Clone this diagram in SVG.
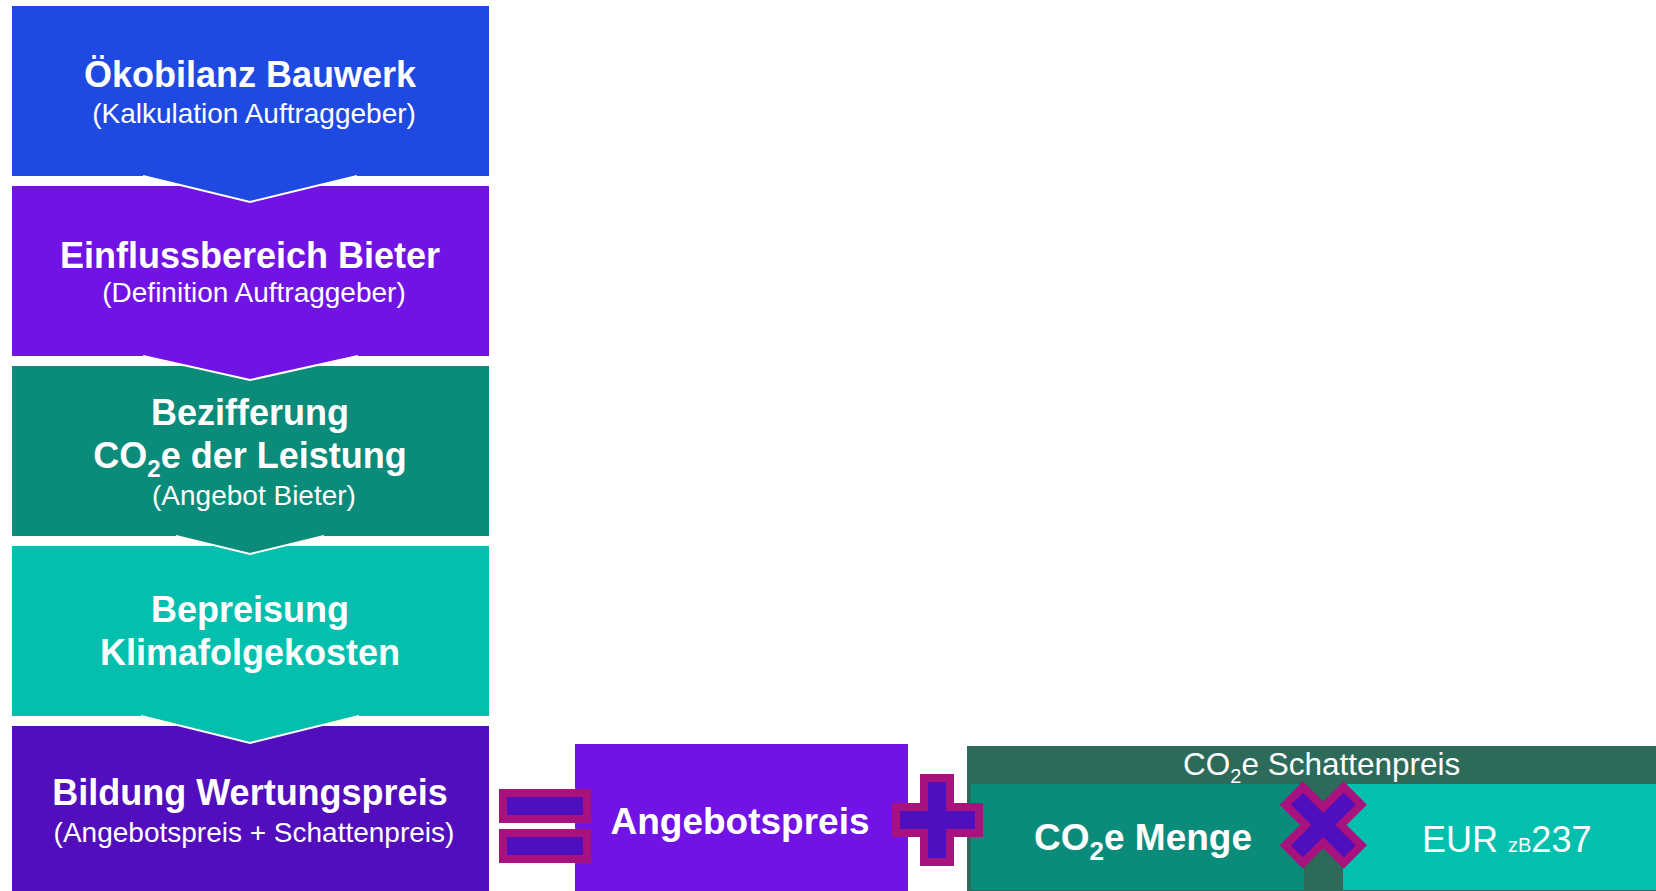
<svg xmlns="http://www.w3.org/2000/svg" width="1656" height="891" viewBox="0 0 1656 891">
<style>
.t{font-family:"Liberation Sans",Arial,sans-serif;fill:#fff}
.b{font-weight:bold;font-size:36px}
.s{font-size:28px}
.m{text-anchor:middle}
.edge{fill:none;stroke:#fff;stroke-width:2}
.op{fill:#500FBC;stroke:#A7127E;stroke-width:8;stroke-linejoin:miter}
</style>
<rect width="1656" height="891" fill="#fff"/>
<g id="box5">
<rect x="12" y="726" width="477" height="165" fill="#520EBC"/>
<text class="t b m" x="250" y="805">Bildung Wertungspreis</text>
<text class="t s m" x="254" y="842">(Angebotspreis + Schattenpreis)</text>
</g>
<g id="box4">
<polygon points="12,546 489,546 489,716 359,716 250,743 141,716 12,716" fill="#03C0AE"/>
<polyline class="edge" points="141,716 250,743 359,716"/>
<text class="t b m" x="250" y="622">Bepreisung</text>
<text class="t b m" x="250" y="665">Klimafolgekosten</text>
</g>
<g id="box3">
<polygon points="12,366 489,366 489,536 324,536 250,554 176,536 12,536" fill="#0B8C7A"/>
<polyline class="edge" points="176,536 250,554 324,536"/>
<text class="t b m" x="250" y="425">Bezifferung</text>
<text class="t b m" x="250" y="468">CO<tspan font-size="24" dy="9">2</tspan><tspan dy="-9">e der Leistung</tspan></text>
<text class="t s m" x="254" y="505">(Angebot Bieter)</text>
</g>
<g id="box2">
<polygon points="12,186 489,186 489,356 358,356 250,380 143,356 12,356" fill="#7213E6"/>
<polyline class="edge" points="143,356 250,380 358,356"/>
<text class="t b m" x="250" y="268">Einflussbereich Bieter</text>
<text class="t s m" x="254" y="302">(Definition Auftraggeber)</text>
</g>
<g id="box1">
<polygon points="12,6 489,6 489,176 357,176 250,202 143,176 12,176" fill="#1F4AE2"/>
<polyline class="edge" points="143,176 250,202 357,176"/>
<text class="t b m" x="250" y="87">Ökobilanz Bauwerk</text>
<text class="t s m" x="254" y="123">(Kalkulation Auftraggeber)</text>
</g>
<g id="angebotspreis">
<rect x="575" y="744" width="333" height="147" fill="#7213E6"/>
<text class="t m" x="740" y="834" font-size="37" font-weight="bold">Angebotspreis</text>
</g>
<g id="schattenpreis">
<rect x="967" y="746" width="689" height="145" fill="#2D6A5A"/>
<text class="t" x="1183" y="775" font-size="31.5">CO<tspan font-size="20" dy="8">2</tspan><tspan dy="-8">e Schattenpreis</tspan></text>
<g id="co2menge">
<rect x="971" y="784" width="333" height="106" fill="#0B8C7A"/>
<text class="t" x="1034" y="850" font-size="37" font-weight="bold">CO<tspan font-size="26" dy="10">2</tspan><tspan dy="-10">e Menge</tspan></text>
</g>
<g id="eur">
<rect x="1343" y="784" width="313" height="106" fill="#03C0AE"/>
<text class="t" x="1422" y="852" font-size="36">EUR <tspan font-size="20">zB</tspan>237</text>
</g>
</g>
<g id="connectors">
<g id="equals">
<rect class="op" x="503" y="793" width="84" height="26"/>
<rect class="op" x="503" y="833" width="84" height="26"/>
</g>
<polygon id="plus" class="op" points="924,778 950,778 950,807 979,807 979,833 950,833 950,862 924,862 924,833 896,833 896,807 924,807"/>
<polygon id="times" class="op" transform="translate(1323.3,825)" points="20.36,-38.04 38.04,-20.36 17.68,0 38.04,20.36 20.36,38.04 0,17.68 -20.36,38.04 -38.04,20.36 -17.68,0 -38.04,-20.36 -20.36,-38.04 0,-17.68"/>
</g>
</svg>
